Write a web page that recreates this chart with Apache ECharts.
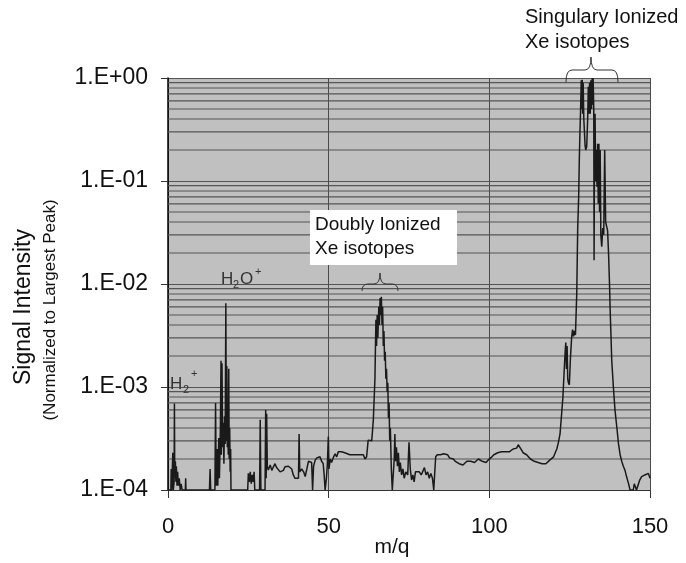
<!DOCTYPE html>
<html><head><meta charset="utf-8">
<script src="https://cdn.jsdelivr.net/npm/echarts@6.0.0/dist/echarts.min.js"></script>
<style>html,body{margin:0;padding:0;background:#fff}#c{width:686px;height:563px}</style>
</head><body><div id="c"></div>
<script>
// ---------- data (m/q, normalized signal) ----------
const xTicks = [0, 50, 100, 150];
const yDecades = [1e-4, 1e-3, 1e-2, 1e-1, 1];
const minorMultipliers = [2, 3, 4, 5, 6, 7, 8, 9];

const lowMass = [
[0.0,1e-4],[0.9,1e-4],[1.0,1.6e-4],[1.15,1e-4],[1.5,2.3e-4],[1.65,1e-4],[1.9,1.2e-4],[2.0,6.9e-4],[2.1,1.3e-4],[2.3,1.9e-4],[2.45,1.2e-4],[2.6,1.7e-4],[2.8,1.1e-4],[3.0,1.5e-4],[3.2,1.1e-4],[3.5,1.3e-4],[3.8,1e-4],[4.1,1.15e-4],[4.4,1e-4],[5.4,1e-4],[5.5,1.3e-4],[5.6,1e-4],
[12.9,1e-4],[13.1,1.6e-4],[13.3,1e-4],[14.6,1e-4],[14.8,7e-4],[15.0,1.1e-4],[15.3,2.5e-4],[15.5,1.1e-4],[15.8,3.2e-4],[16.0,1.3e-4],[16.3,4e-4],[16.5,1.8e-3],[16.6,2.2e-4],[16.8,1.7e-3],[17.0,2.6e-4],[17.2,4.5e-4],[17.4,1.8e-4],[17.6,5.2e-4],[17.8,2.8e-4],[18.0,6.5e-3],[18.15,3e-4],[18.3,1.6e-3],[18.45,2.6e-4],[18.6,5e-4],[18.75,2.2e-4],[18.9,1.5e-3],[19.05,2e-4],[19.2,4e-4],[19.35,1.5e-4],[19.5,2.5e-4],[19.6,1e-4],
[24.8,1e-4],[25.0,1.45e-4],[25.3,1.2e-4],[25.6,1.5e-4],[25.9,1.15e-4],[26.2,1.4e-4],[26.5,1.2e-4],[26.8,1.5e-4],[27.0,1e-4],[28.5,1e-4],[28.7,4.8e-4],[28.9,1e-4],[30.2,1e-4],[30.4,6e-4],[30.55,1.3e-4],[30.7,5.5e-4],[30.9,1.7e-4]
];

const baselineLow = [
[31.2,1.56e-4],[31.8,1.75e-4],[32.3,1.55e-4],[32.8,1.68e-4],[33.3,1.8e-4],[33.8,1.65e-4],[34.4,1.72e-4],[34.9,1.5e-4],[35.4,1.45e-4],[35.9,1.55e-4],[36.4,1.68e-4],[36.9,1.75e-4],[37.5,1.7e-4],[38.0,1.75e-4],[38.5,1.6e-4],[39.0,1.4e-4],[39.5,1.3e-4],[40.0,1.25e-4],[40.6,1.3e-4],[40.8,3.5e-4],[41.0,1.5e-4],[41.6,1.6e-4],[42.2,1.5e-4],[42.7,1.35e-4],[43.2,1.6e-4],[43.7,1.9e-4],[44.2,1.95e-4],[44.7,1.85e-4],[45.0,1e-4],[45.3,1.7e-4],[45.8,1.95e-4],[46.3,2.05e-4],[46.8,2e-4],[47.3,2.1e-4],[47.8,1.9e-4],[48.3,1.8e-4],[48.6,1.4e-4],[48.9,1e-4],[49.3,1.3e-4],[49.6,1.8e-4],[49.9,3.3e-4],[50.1,1.6e-4],[50.5,2e-4],[50.9,1.85e-4],[51.4,2.05e-4],[52.0,2.25e-4],[52.5,2.1e-4],[53.0,2.35e-4],[53.5,2.25e-4],[54.0,2.35e-4],[54.5,2.25e-4],[55.0,2.3e-4],[56.6,2.2e-4],[58.0,2.2e-4],[59.5,2.2e-4],[60.8,2.2e-4],[61.3,2e-4],[61.8,2.1e-4],[62.3,3.05e-4],[62.9,3.1e-4],[63.4,3e-4],[63.9,4.8e-4]
];

const doublyIonized = [
[64.4,1.2e-3],[64.7,4.5e-3],[64.9,2.5e-3],[65.1,5e-3],[65.3,3e-3],[65.6,6e-3],[65.8,4e-3],[66.0,7.3e-3],[66.2,5e-3],[66.4,7.5e-3],[66.6,4e-3],[66.8,6e-3],[67.0,2.5e-3],[67.2,3.5e-3],[67.4,1.8e-3],[67.6,2.2e-3],[67.8,1.2e-3],[68.0,1.5e-3],[68.2,9e-4],[68.4,1.1e-3],[68.6,5e-4],[68.8,7e-4],[69.0,3e-4],[69.2,4e-4],[69.5,1.6e-4],[69.8,1e-4]
];

const baselineHigh = [
[70.1,1e-4],[70.4,2e-4],[70.6,3.5e-4],[70.8,1.9e-4],[71.1,2.6e-4],[71.4,1.7e-4],[71.7,2.3e-4],[72.0,1.5e-4],[72.3,1.85e-4],[72.7,1.4e-4],[73.1,1.6e-4],[73.5,1.3e-4],[74.0,1.5e-4],[74.6,1.4e-4],[75.0,2.9e-4],[75.4,1.6e-4],[75.8,1.25e-4],[76.2,1.4e-4],[76.6,1.2e-4],[77.0,1.5e-4],[77.6,1.45e-4],[78.2,1.5e-4],[78.8,1.4e-4],[79.3,1.45e-4],[79.8,1.65e-4],[80.3,1.4e-4],[80.8,1.5e-4],[81.3,1.3e-4],[81.8,1.45e-4],[82.3,1.3e-4],[82.7,1e-4],[83.1,1e-4],[83.3,2.1e-4],[83.8,2.2e-4],[84.3,2.3e-4],[84.8,2.2e-4],[85.3,2.3e-4],[85.8,2.25e-4],[86.4,2.3e-4],[87.0,2.2e-4],[87.6,2.05e-4],[88.2,2.1e-4],[88.8,2e-4],[89.4,1.9e-4],[90.0,1.95e-4],[90.6,1.8e-4],[91.2,1.75e-4],[91.8,1.75e-4],[92.4,1.8e-4],[93.0,1.9e-4],[93.6,1.95e-4],[94.2,1.9e-4],[94.8,1.95e-4],[95.4,1.85e-4],[96.0,1.9e-4],[96.6,2e-4],[97.2,1.95e-4],[97.8,1.9e-4],[98.4,1.95e-4],[99.0,1.85e-4],[99.6,1.95e-4],[100.2,2e-4],[100.8,2.1e-4],[101.4,2.2e-4],[102.0,2.15e-4],[102.6,2.3e-4],[103.2,2.25e-4],[103.8,2.35e-4],[104.4,2.3e-4],[105.0,2.35e-4],[105.6,2.4e-4],[106.2,2.35e-4],[106.8,2.45e-4],[107.4,2.5e-4],[108.0,2.6e-4],[108.5,2.55e-4],[109.0,2.75e-4],[109.5,2.65e-4],[110.0,2.45e-4],[110.5,2.3e-4],[111.0,2.4e-4],[111.6,2.2e-4],[112.2,2.25e-4],[112.8,2e-4],[113.4,2e-4],[114.0,1.9e-4],[114.6,1.95e-4],[115.2,1.85e-4],[115.8,1.85e-4],[116.4,1.8e-4],[117.0,1.85e-4],[117.6,1.8e-4],[118.2,1.85e-4],[118.8,1.95e-4],[119.4,2e-4],[120.0,2.1e-4],[120.5,2.3e-4],[121.0,2.5e-4],[121.5,2.9e-4],[122.0,3.5e-4],[122.5,5.5e-4],[122.9,8e-4],[123.3,1.45e-3],[123.6,2.2e-3],[123.8,2.7e-3],[124.0,1.5e-3],[124.2,2.5e-3],[124.4,1.2e-3],[124.6,1.1e-3],[124.9,1.05e-3],[125.2,1.8e-3],[125.6,3e-3],[125.9,3.6e-3],[126.2,3.1e-3],[126.5,3.5e-3],[126.8,3.2e-3],[127.0,3.3e-3]
];

const singlyIonized = [
[127.2,8e-3],[127.5,0.035],[127.8,0.07],[128.0,0.16],[128.2,0.3],[128.4,0.49],[128.6,0.95],[128.75,0.5],[128.9,0.96],[129.05,0.45],[129.2,0.9],[129.4,0.4],[129.6,0.3],[129.8,0.22],[130.0,0.2],[130.3,0.215],[130.6,0.4],[130.8,0.82],[131.0,0.45],[131.2,0.9],[131.4,0.45],[131.6,0.95],[131.8,0.5],[132.0,1.0],[132.15,0.55],[132.3,1.0],[132.5,0.5],[132.6,0.017],[132.75,0.4],[132.9,0.45],[133.1,0.1],[133.3,0.2],[133.5,0.088],[133.7,0.23],[133.9,0.06],[134.1,0.23],[134.3,0.05],[134.5,0.2],[134.7,0.03],[134.98,0.023],[135.3,0.035],[135.6,0.03],[135.9,0.2],[136.2,0.04],[136.5,0.039],[136.8,0.033],[137.1,0.02],[137.4,0.01],[137.6,5.6e-3],[138.1,1.8e-3],[138.6,1e-3],[139.1,6e-4],[139.7,4e-4],[140.2,2.8e-4],[140.7,2.2e-4],[141.2,1.9e-4],[141.7,1.7e-4],[142.2,1.56e-4],[142.7,1.35e-4],[143.3,1.16e-4],[143.8,1e-4],[144.8,1e-4],[145.1,1.15e-4],[145.5,1.1e-4],[145.8,1e-4],[146.4,1e-4],[146.8,1.25e-4],[147.4,1.35e-4],[147.9,1.3e-4],[148.4,1.4e-4],[148.9,1.45e-4],[149.5,1.45e-4],[150.0,1.3e-4]
];

const spectrum = [].concat(lowMass, baselineLow, doublyIonized, baselineHigh, singlyIonized);

// minor horizontal grid values (2..9 x each decade)
const minorGridValues = [];
for (let i = 0; i < yDecades.length - 1; i++) {
  for (const k of minorMultipliers) minorGridValues.push(k * yDecades[i]);
}

const FONT = '"Liberation Sans", Arial, sans-serif';
const chart = echarts.init(document.getElementById('c'), null, { renderer: 'canvas' });

function fmtExp(v) {
  const e = Math.round(Math.log10(v));
  return '1.E' + (e < 0 ? '-' : '+') + String(Math.abs(e)).padStart(2, '0');
}

// curly brace (opening downward) built from line / quadratic curve elements
function brace(xl, xm, xr, yBar, yEnd, yTip) {
  const st = { stroke: '#333', lineWidth: 1, fill: null };
  const r = 6;
  return [
    { type: 'bezierCurve', z: 11, shape: { x1: xl, y1: yEnd, cpx1: xl, cpy1: yBar, x2: xl + r, y2: yBar }, style: st },
    { type: 'line', z: 11, shape: { x1: xl + r, y1: yBar, x2: xm - r, y2: yBar }, style: st },
    { type: 'bezierCurve', z: 11, shape: { x1: xm - r, y1: yBar, cpx1: xm, cpy1: yBar, x2: xm, y2: yTip }, style: st },
    { type: 'bezierCurve', z: 11, shape: { x1: xm, y1: yTip, cpx1: xm, cpy1: yBar, x2: xm + r, y2: yBar }, style: st },
    { type: 'line', z: 11, shape: { x1: xm + r, y1: yBar, x2: xr - r, y2: yBar }, style: st },
    { type: 'bezierCurve', z: 11, shape: { x1: xr - r, y1: yBar, cpx1: xr, cpy1: yBar, x2: xr, y2: yEnd }, style: st }
  ];
}

const gridSeries = minorGridValues.map(v => ({
  type: 'line', z: 1, silent: true, showSymbol: false, animation: false,
  data: [[xTicks[0], v], [xTicks[xTicks.length - 1], v]],
  lineStyle: { color: '#555', width: 1.2 }
}));

chart.setOption({
  animation: false,
  backgroundColor: '#ffffff',
  grid: { left: 168, right: 36, top: 78, bottom: 73, show: true, backgroundColor: '#c0c0c0', borderWidth: 0 },
  xAxis: {
    type: 'value', min: 0, max: 150, interval: 50,
    axisLine: { show: true, onZero: false, lineStyle: { color: '#333', width: 1.2 } },
    axisTick: { show: true, length: 8, lineStyle: { color: '#333', width: 1 } },
    axisLabel: { color: '#111', fontSize: 22, fontFamily: FONT, margin: 26 },
    splitLine: { show: true, lineStyle: { color: '#4a4a4a', width: 1 } }
  },
  yAxis: {
    type: 'log', logBase: 10, min: 1e-4, max: 1,
    axisLine: { show: true, lineStyle: { color: '#000', width: 1.5 } },
    axisTick: { show: true, length: 7, lineStyle: { color: '#333', width: 1 } },
    axisLabel: { color: '#111', fontSize: 23, fontFamily: FONT, margin: 20, formatter: fmtExp },
    splitLine: { show: true, lineStyle: { color: '#555', width: 1.2 } }
  },
  series: gridSeries.concat([
    {
      type: 'line', z: 3, data: spectrum, showSymbol: false, clip: true,
      lineStyle: { color: '#1a1a1a', width: 1.5 }
    }
  ]),
  graphic: [
    { type: 'text', x: 24, y: 307, rotation: Math.PI / 2,
      style: { text: 'Signal Intensity', font: '23px ' + FONT, fill: '#111', align: 'center', verticalAlign: 'middle' } },
    { type: 'text', x: 50, y: 310, rotation: Math.PI / 2,
      style: { text: '(Normalized to Largest Peak)', font: '17px ' + FONT, fill: '#111', align: 'center', verticalAlign: 'middle' } },
    { type: 'text', x: 392, y: 547,
      style: { text: 'm/q', font: '21px ' + FONT, fill: '#111', align: 'center', verticalAlign: 'middle' } },
    { type: 'rect', z: 10, shape: { x: 310, y: 210, width: 147, height: 55 }, style: { fill: '#ffffff' } },
    { type: 'text', z: 11, x: 315, y: 213,
      style: { text: 'Doubly Ionized\nXe isotopes', font: '19px ' + FONT, lineHeight: 24, fill: '#111', align: 'left', verticalAlign: 'top' } },
    { type: 'text', z: 11, x: 525, y: 5,
      style: { text: 'Singulary Ionized\nXe isotopes', font: '20px ' + FONT, lineHeight: 25, fill: '#111', align: 'left', verticalAlign: 'top' } },
    ...brace(362, 380, 398, 284, 291, 273),
    ...brace(566, 591, 618, 70, 82, 57),
    // H2O+
    { type: 'text', z: 11, x: 221, y: 279, style: { text: 'H', font: '17px ' + FONT, fill: '#333', verticalAlign: 'middle' } },
    { type: 'text', z: 11, x: 233, y: 285, style: { text: '2', font: '11px ' + FONT, fill: '#333', verticalAlign: 'middle' } },
    { type: 'text', z: 11, x: 240, y: 279, style: { text: 'O', font: '17px ' + FONT, fill: '#333', verticalAlign: 'middle' } },
    { type: 'text', z: 11, x: 255, y: 272, style: { text: '+', font: '11px ' + FONT, fill: '#333', verticalAlign: 'middle' } },
    // H2+
    { type: 'text', z: 11, x: 170, y: 384, style: { text: 'H', font: '17px ' + FONT, fill: '#333', verticalAlign: 'middle' } },
    { type: 'text', z: 11, x: 183, y: 390, style: { text: '2', font: '11px ' + FONT, fill: '#333', verticalAlign: 'middle' } },
    { type: 'text', z: 11, x: 191, y: 374, style: { text: '+', font: '11px ' + FONT, fill: '#333', verticalAlign: 'middle' } }
  ]
});
</script></body></html>
